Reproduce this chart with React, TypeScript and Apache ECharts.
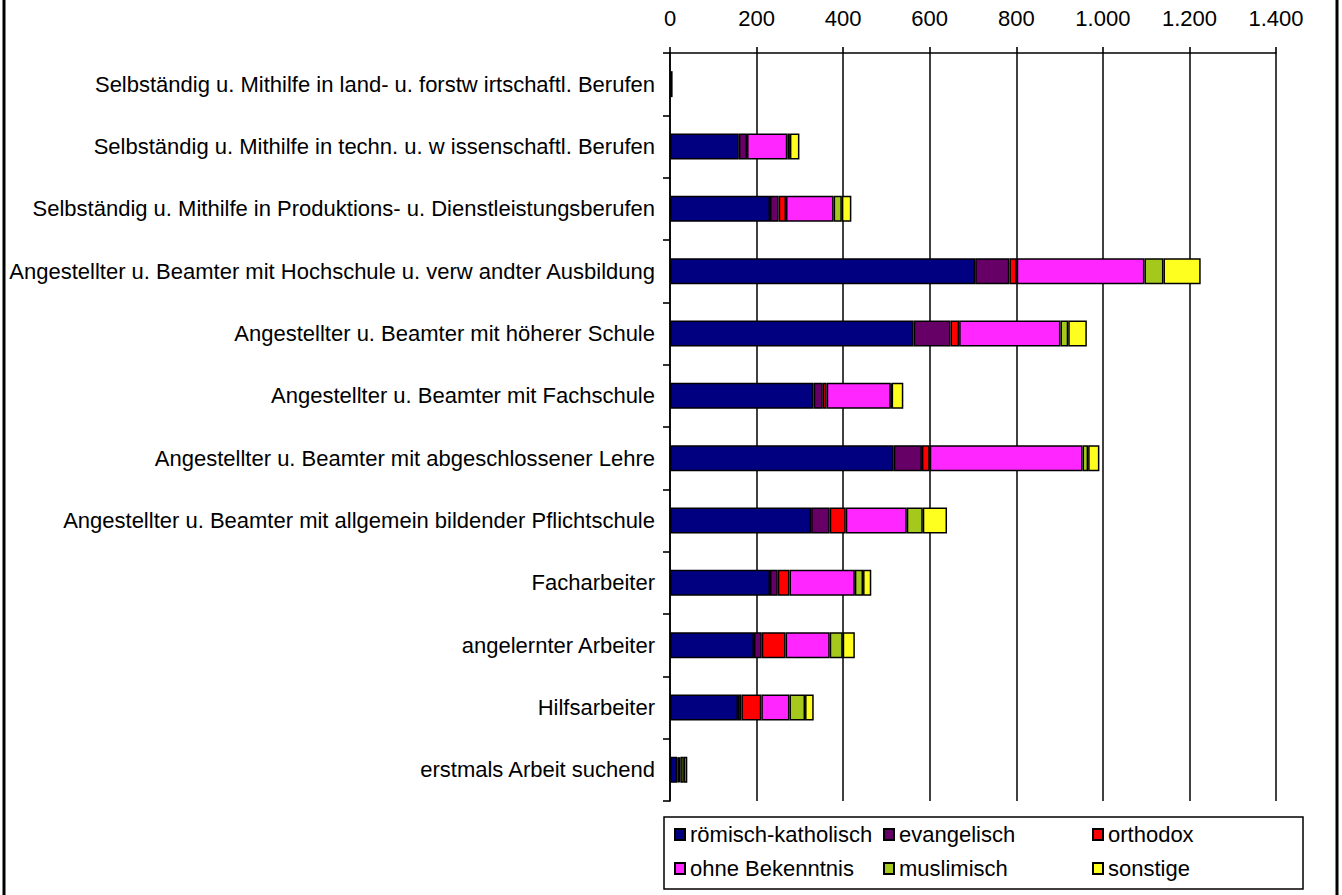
import React, { useEffect, useRef } from "react";
import * as echarts from "echarts";

const categories = [
  "Selbständig u. Mithilfe in land- u. forstw irtschaftl. Berufen",
  "Selbständig u. Mithilfe in techn. u. w issenschaftl. Berufen",
  "Selbständig u. Mithilfe in Produktions- u. Dienstleistungsberufen",
  "Angestellter u. Beamter mit Hochschule u. verw andter Ausbildung",
  "Angestellter u. Beamter mit höherer Schule",
  "Angestellter u. Beamter mit Fachschule",
  "Angestellter u. Beamter mit abgeschlossener Lehre",
  "Angestellter u. Beamter mit allgemein bildender Pflichtschule",
  "Facharbeiter",
  "angelernter Arbeiter",
  "Hilfsarbeiter",
  "erstmals Arbeit suchend",
];

const seriesNames = [
  "römisch-katholisch",
  "evangelisch",
  "orthodox",
  "ohne Bekenntnis",
  "muslimisch",
  "sonstige",
];

const roemischKatholisch = [6, 159, 231, 705, 563, 332, 517, 326, 231, 194, 157, 17];
const evangelisch = [null, 19, 20, 79, 85, 21, 65, 43, 18, 18, 8, 3];
const orthodox = [null, null, 17, 17, 20, 9, 18, 37, 27, 55, 46, 1];
const ohneBekenntnis = [null, 93, 110, 295, 234, 148, 353, 141, 151, 102, 65, 3];
const muslimisch = [null, 6, 19, 44, 18, 2, 13, 37, 19, 30, 36, 8];
const sonstige = [null, 22, 22, 86, 43, 27, 26, 56, 19, 28, 20, 8];

const seriesData = [roemischKatholisch, evangelisch, orthodox, ohneBekenntnis, muslimisch, sonstige];
const colors = ["#000080", "#660066", "#FF0000", "#FF26FF", "#A4C91C", "#FFFF1F"];

const FONT = "'Liberation Sans', Arial, sans-serif";
const FS = 22;

function fmt(v: number): string {
  const s = String(Math.round(v));
  return s.replace(/\B(?=(\d{3})+(?!\d))/g, ".");
}

export default function App() {
  const ref = useRef<HTMLDivElement>(null);
  useEffect(() => {
    if (!ref.current) return;
    const chart = echarts.init(ref.current, null, { renderer: "svg" });
    chart.setOption({
      animation: false,
      backgroundColor: "#ffffff",
      textStyle: { fontFamily: FONT },
      grid: { left: 670, right: 66, top: 53, bottom: 94, containLabel: false },
      xAxis: {
        type: "value",
        position: "top",
        min: 0,
        max: 1400,
        interval: 200,
        axisLine: { show: true, lineStyle: { color: "#000", width: 1.6 } },
        axisTick: { show: true, length: 6, lineStyle: { color: "#000", width: 1.6 } },
        splitLine: { show: true, lineStyle: { color: "#111", width: 1.6 } },
        axisLabel: {
          color: "#000",
          fontSize: FS,
          fontFamily: FONT,
          margin: 24,
          formatter: (v: number) => fmt(v),
        },
      },
      yAxis: {
        type: "category",
        data: categories,
        inverse: true,
        axisLine: { show: true, lineStyle: { color: "#000", width: 1.6 } },
        axisTick: { show: true, length: 7, lineStyle: { color: "#000", width: 1.6 } },
        axisLabel: { color: "#000", fontSize: FS, fontFamily: FONT, margin: 15 },
        splitLine: { show: false },
      },
      legend: {
        show: true,
        left: 674,
        top: 820,
        width: 630,
        orient: "horizontal",
        itemWidth: 10,
        itemHeight: 11,
        itemGap: 5,
        icon: "rect",
        padding: 0,
        data: seriesNames,
        textStyle: {
          color: "#000",
          fontSize: FS,
          fontFamily: FONT,
          width: 188,
          lineHeight: 29,
          padding: [0, 0, 0, 0],
        },
      },
      graphic: [
        {
          type: "rect",
          shape: { x: 664, y: 817, width: 639, height: 72 },
          style: { fill: "none", stroke: "#000", lineWidth: 1.5 },
          z: 100,
        },
        {
          type: "line",
          shape: { x1: 4, y1: -5, x2: 4, y2: 900 },
          style: { stroke: "#000", lineWidth: 3 },
        },
        {
          type: "line",
          shape: { x1: 1337, y1: -5, x2: 1337, y2: 900 },
          style: { stroke: "#000", lineWidth: 3 },
        },
      ],
      series: seriesNames.map((name, i) => ({
        name,
        type: "bar",
        stack: "total",
        data: seriesData[i],
        barWidth: 26,
        itemStyle: { color: colors[i], borderColor: "#000", borderWidth: 1.5 },
        emphasis: { disabled: true },
      })),
    });
    return () => chart.dispose();
  }, []);
  return (
    <div
      ref={ref}
      style={{ position: "fixed", left: 0, top: 0, width: 1342, height: 895 }}
    />
  );
}
